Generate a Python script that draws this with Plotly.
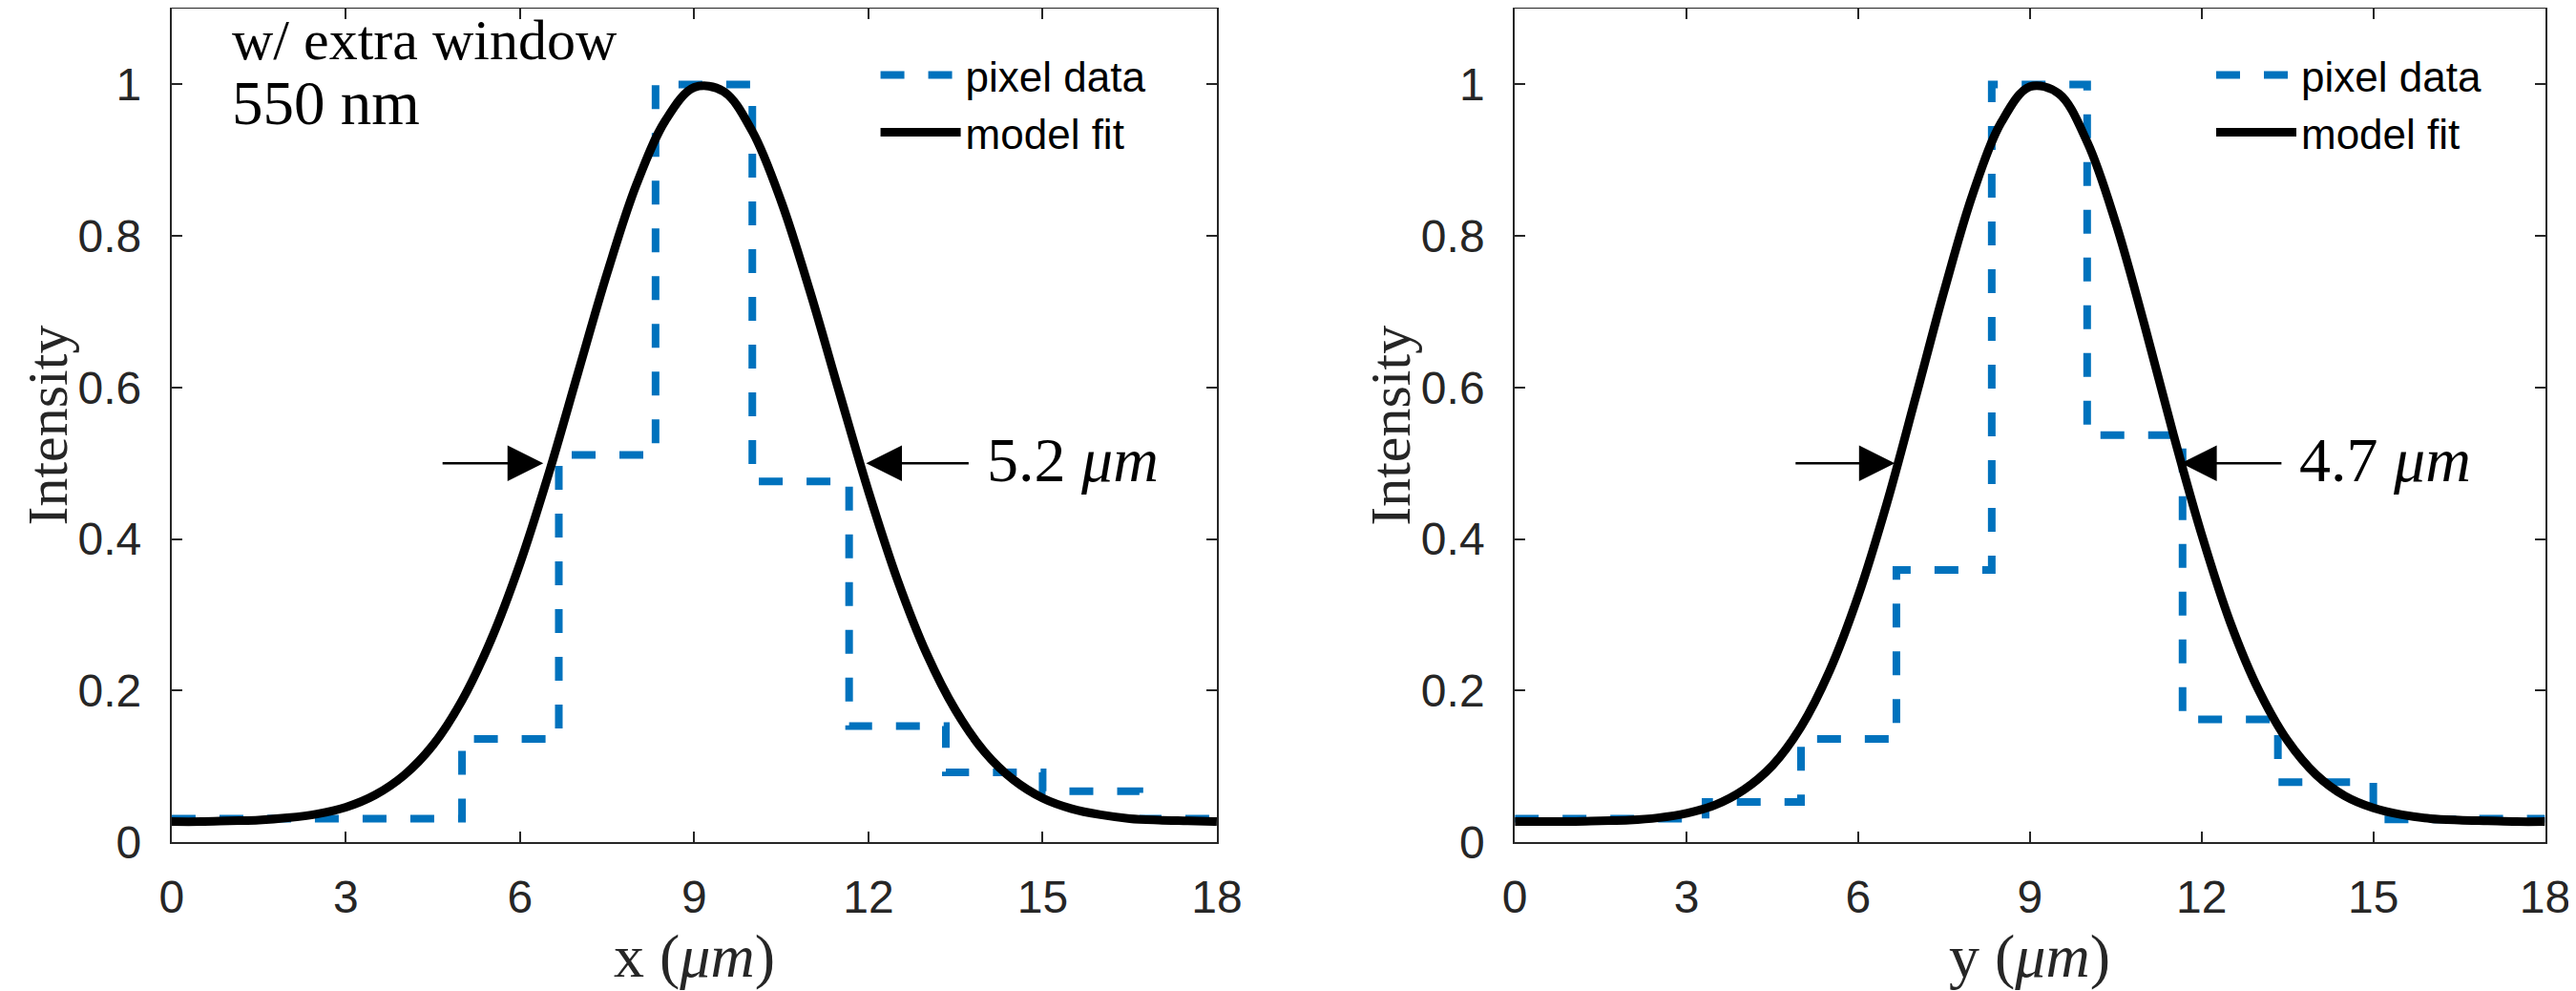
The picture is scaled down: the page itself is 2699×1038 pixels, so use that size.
import plotly.graph_objects as go
from plotly.subplots import make_subplots

# pixel edges (um) shared by both profiles
pix_edges = [0, 1.667, 3.333, 5, 6.667, 8.333, 10, 11.667, 13.333, 15, 16.667, 18]
# pixel intensities, one per pixel (last repeated to close the step)
pix_x = [0.031, 0.031, 0.031, 0.136, 0.511, 1.0, 0.476, 0.153, 0.092, 0.067, 0.031, 0.031]
pix_y = [0.031, 0.031, 0.053, 0.136, 0.359, 1.0, 0.537, 0.162, 0.079, 0.030, 0.031, 0.031]

# model fit curves
fit_pos = [0, 0.5, 1, 1.5, 2, 2.5, 3, 3.5, 4, 4.5, 5, 5.5, 6, 6.5, 7, 7.5, 8, 8.5, 9,
           9.5, 10, 10.5, 11, 11.5, 12, 12.5, 13, 13.5, 14, 14.5, 15, 15.5, 16, 16.5,
           17, 17.5, 18]
fit_x = [0.027, 0.027, 0.028, 0.029, 0.032, 0.037, 0.046, 0.062, 0.088, 0.128, 0.187,
         0.267, 0.368, 0.488, 0.620, 0.751, 0.867, 0.952, 0.996, 0.991, 0.938, 0.845,
         0.725, 0.593, 0.463, 0.346, 0.249, 0.174, 0.119, 0.082, 0.058, 0.044, 0.036,
         0.031, 0.029, 0.028, 0.027]
fit_y = [0.027, 0.027, 0.027, 0.028, 0.029, 0.032, 0.038, 0.049, 0.069, 0.101, 0.152,
         0.226, 0.325, 0.447, 0.586, 0.727, 0.855, 0.950, 0.997, 0.988, 0.924, 0.817,
         0.683, 0.540, 0.406, 0.290, 0.200, 0.134, 0.089, 0.061, 0.045, 0.036, 0.031,
         0.029, 0.028, 0.027, 0.027]

# FWHM arrows: (left tail, left tip, right tip, right tail), label
fwhm_x = [4.64, 6.40, 11.96, 13.75]
fwhm_y = [4.88, 6.64, 11.64, 13.42]
labels = ["5.2", "4.7"]
xtitles = ["x", "y"]

AX = "#262626"
BLUE = "#0072BD"
SANS = "Liberation Sans"
SERIF = "Liberation Serif"

doms = [[0.0637, 0.4694], [0.5851, 0.985]]
ydom = [0.158, 0.999]

fig = make_subplots(rows=1, cols=2)

for col, (steps, fit, arr, lab) in enumerate(
        [(pix_x, fit_x, fwhm_x, labels[0]), (pix_y, fit_y, fwhm_y, labels[1])], start=1):
    leg = "legend" if col == 1 else "legend2"
    fig.add_trace(go.Scatter(x=pix_edges, y=steps, mode="lines", line_shape="hv",
                             line=dict(color=BLUE, width=8, dash="25px,25px"),
                             name="pixel data", legend=leg), row=1, col=col)
    fig.add_trace(go.Scatter(x=fit_pos, y=fit, mode="lines", line_shape="spline",
                             line=dict(color="black", width=9),
                             name="model fit", legend=leg), row=1, col=col)
    xr = "x" if col == 1 else "x2"
    yr = "y" if col == 1 else "y2"
    for tail, tip in [(arr[0], arr[1]), (arr[3], arr[2])]:
        fig.add_annotation(x=tip, y=0.5, ax=tail, ay=0.5, xref=xr, yref=yr,
                           axref=xr, ayref=yr, text="", showarrow=True,
                           arrowhead=2, arrowsize=3, arrowwidth=2.5,
                           arrowcolor="black", standoff=0)
    fig.add_annotation(x=arr[3] + 0.25, y=0.505, xref=xr, yref=yr, xanchor="left",
                       yanchor="middle", showarrow=False,
                       text=lab + " <i>μm</i>", font=dict(family=SERIF, size=66, color="black"))

    # axis titles placed as paper annotations
    d = doms[col - 1]
    fig.add_annotation(x=(d[0] + d[1]) / 2, y=0.043, xref="paper", yref="paper",
                       xanchor="center", yanchor="middle", showarrow=False,
                       text=xtitles[col - 1] + " (<i>μm</i>)",
                       font=dict(family=SERIF, size=64, color=AX))
    fig.add_annotation(x=d[0] - 0.0485, y=(ydom[0] + ydom[1]) / 2,
                       xref="paper", yref="paper", xanchor="center", yanchor="middle",
                       showarrow=False, textangle=-90, text="Intensity",
                       font=dict(family=SERIF, size=60, color=AX))

fig.add_annotation(x=1.0, y=1.058, xref="x", yref="y", xanchor="left", yanchor="middle",
                   showarrow=False, text="w/ extra window",
                   font=dict(family=SERIF, size=60, color="black"))
fig.add_annotation(x=1.0, y=0.975, xref="x", yref="y", xanchor="left", yanchor="middle",
                   showarrow=False, text="550 nm",
                   font=dict(family=SERIF, size=65, color="black"))

axis_common = dict(showline=True, linecolor=AX, linewidth=2, mirror="ticks",
                   ticks="inside", ticklen=11, tickwidth=2, tickcolor=AX,
                   showgrid=False, zeroline=False, automargin=False,
                   tickfont=dict(family=SANS, size=48, color=AX))

for i in range(2):
    fig.update_xaxes(axis_common, range=[0, 18], tickvals=[0, 3, 6, 9, 12, 15, 18],
                     domain=doms[i], ticklabelstandoff=14,
                     row=1, col=i + 1)
    fig.update_yaxes(axis_common, range=[0, 1.1], tickvals=[0, 0.2, 0.4, 0.6, 0.8, 1],
                     ticktext=["0", "0.2", "0.4", "0.6", "0.8", "1"],
                     domain=ydom, ticklabelstandoff=20,
                     row=1, col=i + 1)

leg_common = dict(font=dict(family=SANS, size=44, color="black"),
                  bgcolor="rgba(0,0,0,0)", borderwidth=0, itemwidth=84,
                  xanchor="left", yanchor="top", tracegroupgap=0)
fig.update_layout(
    width=2699, height=1038,
    margin=dict(l=0, r=0, t=0, b=0),
    paper_bgcolor="white", plot_bgcolor="white",
    showlegend=True,
    legend=dict(leg_common, x=0.337, y=0.966),
    legend2=dict(leg_common, x=0.8555, y=0.966),
)

fig.write_html("out.html")
